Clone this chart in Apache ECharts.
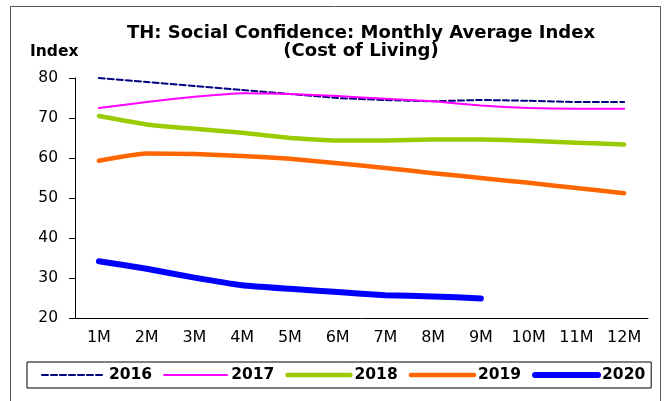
<!DOCTYPE html>
<html lang="en">
<head>
    <meta charset="UTF-8">
    <script src="https://cdn.jsdelivr.net/npm/echarts@6/dist/echarts.min.js"></script>
    <title>TH Social Confidence</title>
</head>
<body style="margin:0;background:#fff;">
    <div id="main" style="width:667px;height:401px;"></div>
    <script>
        var months = ['1M', '2M', '3M', '4M', '5M', '6M', '7M', '8M', '9M', '10M', '11M', '12M'];
        var y2016 = [80, 79, 78, 77, 76, 75, 74.5, 74.2, 74.5, 74.3, 74, 74];
        var y2017 = [72.5, 74, 75.3, 76.2, 76, 75.5, 74.8, 74.2, 73.1, 72.5, 72.3, 72.3];
        var y2018 = [70.5, 68.4, 67.3, 66.3, 65, 64.4, 64.4, 64.6, 64.6, 64.3, 63.8, 63.4];
        var y2019 = [59.3, 61.1, 61, 60.5, 59.8, 58.7, 57.5, 56.2, 55, 53.8, 52.5, 51.2];
        var y2020 = [34.2, 32.3, 30.1, 28.2, 27.3, 26.5, 25.7, 25.4, 24.9];

        var font = 'DejaVu Sans';
        var myChart = echarts.init(document.getElementById('main'));

        // legend + series share these styles
        var styles = {
            '2016': { color: '#000080', width: 2, type: [6, 3] },
            '2017': { color: '#FF00FF', width: 2, type: 'solid' },
            '2018': { color: '#99CC00', width: 4.5, type: 'solid' },
            '2019': { color: '#FF6600', width: 4.5, type: 'solid' },
            '2020': { color: '#0000FF', width: 6, type: 'solid' }
        };

        function line(name, data) {
            var s = styles[name];
            return {
                name: name,
                type: 'line',
                data: data,
                symbol: 'none',
                smooth: 0.15,
                lineStyle: { color: s.color, width: s.width, type: s.type, cap: 'round', join: 'round' },
                itemStyle: { color: s.color }
            };
        }

        var legendData = Object.keys(styles).map(function (k) {
            var s = styles[k];
            return {
                name: k,
                itemStyle: { opacity: 0 },
                lineStyle: { color: s.color, width: s.width, type: s.type, cap: 'round' }
            };
        });

        var option = {
            backgroundColor: '#fff',
            animation: false,
            title: {
                text: 'TH: Social Confidence: Monthly Average Index\n(Cost of Living)',
                left: 356,
                top: 19,
                textAlign: 'center',
                textStyle: { fontFamily: font, fontSize: 18, fontWeight: 'bold', color: '#000', lineHeight: 18 }
            },
            graphic: [
                {
                    type: 'rect',
                    shape: { x: 10.5, y: 6.5, width: 650, height: 420 },
                    style: { fill: 'none', stroke: '#555', lineWidth: 1 }
                },
                {
                    type: 'text',
                    left: 30,
                    top: 44,
                    style: { text: 'Index', fontFamily: font, fontSize: 15.5, fontWeight: 'bold', fill: '#000' }
                }
            ],
            legend: {
                left: 27,
                top: 362,
                padding: [5, 6, 5, 14],
                itemGap: 11,
                itemWidth: 63,
                itemHeight: 12,
                borderColor: '#000',
                borderWidth: 1,
                textStyle: { fontFamily: font, fontSize: 15.5, fontWeight: 'bold', color: '#000', padding: [0, 0, 0, -1] },
                data: legendData
            },
            grid: { left: 75, right: 19, top: 78, bottom: 83 },
            xAxis: {
                type: 'category',
                data: months,
                axisLine: { lineStyle: { color: '#000' } },
                axisTick: { length: 5, lineStyle: { color: '#000' } },
                axisLabel: { color: '#000', fontFamily: font, fontSize: 16, margin: 12 }
            },
            yAxis: {
                type: 'value',
                min: 20,
                max: 80,
                interval: 10,
                splitLine: { show: false },
                axisLine: { show: true, lineStyle: { color: '#000' } },
                axisTick: { show: true, length: 6, lineStyle: { color: '#000' } },
                axisLabel: { color: '#000', fontFamily: font, fontSize: 15.5, margin: 17 }
            },
            series: [
                line('2016', y2016),
                line('2017', y2017),
                line('2018', y2018),
                line('2019', y2019),
                line('2020', y2020)
            ]
        };
        myChart.setOption(option);
    </script>
</body>
</html>
